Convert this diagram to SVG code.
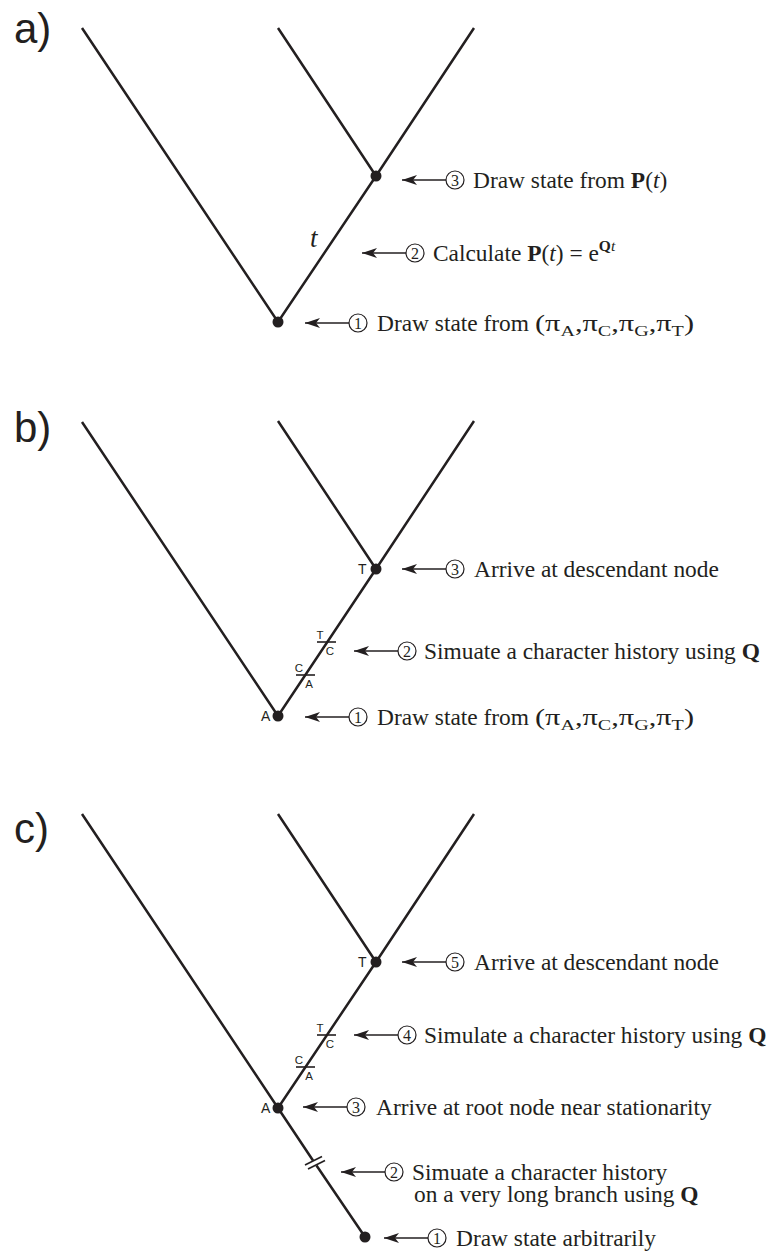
<svg xmlns="http://www.w3.org/2000/svg" width="769" height="1254" viewBox="0 0 769 1254">
<style>
.br{stroke:#231f20;stroke-width:2.5;fill:none;stroke-linecap:butt}
.dot{fill:#231f20}
.tick{stroke:#231f20;stroke-width:1.6;fill:none}
.arr{stroke:#231f20;stroke-width:1.6;fill:none;marker-end:url(#ah)}
.cir{stroke:#231f20;stroke-width:1.2;fill:none}
.dig{font-family:"Liberation Serif",serif;font-size:16px;fill:#231f20;text-anchor:middle}
.lbl{font-family:"Liberation Serif",serif;font-size:23.4px;fill:#231f20}
.sub{font-size:15.5px}
.pl{font-family:"Liberation Sans",Arial,sans-serif;font-size:42px;fill:#231f20}
.st{font-family:"Liberation Sans",Arial,sans-serif;font-size:14px;fill:#231f20}
.mt{font-family:"Liberation Sans",Arial,sans-serif;font-size:11.5px;fill:#231f20;text-anchor:middle}
</style>
<defs>
<marker id="ah" markerUnits="userSpaceOnUse" markerWidth="16" markerHeight="11" refX="15" refY="5" orient="auto">
<path d="M0,0 L15,5 L0,10 L4,5 Z" fill="#231f20"/>
</marker>
</defs>
<rect width="769" height="1254" fill="#ffffff"/>

<!-- panel labels -->
<text class="pl" x="14" y="43">a)</text>
<text class="pl" x="14" y="442">b)</text>
<text class="pl" x="14" y="843">c)</text>

<!-- connectors -->
<g id="connectors">
  <path class="br" d="M82,28 L278,322 L376,176 L474,28 M278,28 L376,176"/>
  <path class="br" d="M82,422 L278,716 L376,569 L474,421 M278,421 L376,569"/>
  <path class="br" d="M82,814 L278,1108 L376,962 L474,814 M278,814 L376,962"/>
  <path class="br" d="M278,1108 L313,1160.5 M316.5,1165.5 L365,1237"/>
  <line class="tick" x1="305" y1="1165" x2="322" y2="1156.5"/>
  <line class="tick" x1="308" y1="1169" x2="325" y2="1160.5"/>
</g>

<!-- branch length label -->
<text x="310" y="247" font-family="Liberation Serif,serif" font-style="italic" font-size="27" fill="#231f20">t</text>

<!-- mutation marks b -->
<g id="mutations-b">
  <line class="tick" x1="317" y1="642" x2="336" y2="642"/>
  <text class="mt" x="320" y="639">T</text>
  <text class="mt" x="330" y="655">C</text>
  <line class="tick" x1="296" y1="675" x2="315" y2="675"/>
  <text class="mt" x="299" y="672">C</text>
  <text class="mt" x="309" y="688">A</text>
</g>
<!-- mutation marks c -->
<g id="mutations-c">
  <line class="tick" x1="317" y1="1035" x2="336" y2="1035"/>
  <text class="mt" x="320" y="1032">T</text>
  <text class="mt" x="330" y="1048">C</text>
  <line class="tick" x1="296" y1="1067" x2="315" y2="1067"/>
  <text class="mt" x="299" y="1064">C</text>
  <text class="mt" x="309" y="1080">A</text>
</g>

<!-- nodes -->
<g id="node-a-root"><circle class="dot" cx="278" cy="322" r="5.5"/></g>
<g id="node-a-desc"><circle class="dot" cx="376" cy="176" r="5.5"/></g>
<g id="node-b-root"><circle class="dot" cx="278" cy="716" r="5.5"/><text class="st" x="261" y="721">A</text></g>
<g id="node-b-desc"><circle class="dot" cx="376" cy="569" r="5.5"/><text class="st" x="358" y="574">T</text></g>
<g id="node-c-root"><circle class="dot" cx="278" cy="1108" r="5.5"/><text class="st" x="261" y="1113">A</text></g>
<g id="node-c-desc"><circle class="dot" cx="376" cy="962" r="5.5"/><text class="st" x="358" y="967">T</text></g>
<g id="node-c-start"><circle class="dot" cx="365" cy="1237" r="5.5"/></g>

<!-- annotations a -->
<g id="ann-a3">
  <line class="arr" x1="446" y1="180" x2="402" y2="180"/>
  <circle class="cir" cx="455" cy="180" r="9"/><text class="dig" x="455" y="185.5">3</text>
  <text class="lbl" x="473" y="188">Draw state from <tspan font-weight="bold">P</tspan>(<tspan font-style="italic">t</tspan>)</text>
</g>
<g id="ann-a2">
  <line class="arr" x1="406" y1="253" x2="362" y2="253"/>
  <circle class="cir" cx="415" cy="253" r="9"/><text class="dig" x="415" y="258.5">2</text>
  <text class="lbl" x="433" y="261">Calculate <tspan font-weight="bold">P</tspan>(<tspan font-style="italic">t</tspan>) = e<tspan class="sub" dy="-10" font-weight="bold">Q</tspan><tspan class="sub" font-style="italic">t</tspan></text>
</g>
<g id="ann-a1">
  <line class="arr" x1="349" y1="323" x2="305" y2="323"/>
  <circle class="cir" cx="358" cy="323" r="9"/><text class="dig" x="358" y="328.5">1</text>
  <text class="lbl" x="377" y="331">Draw state from</text>
  <text class="lbl" x="535" y="331" textLength="159" lengthAdjust="spacingAndGlyphs">(π<tspan class="sub" dy="5">A</tspan><tspan dy="-5">,π</tspan><tspan class="sub" dy="5">C</tspan><tspan dy="-5">,π</tspan><tspan class="sub" dy="5">G</tspan><tspan dy="-5">,π</tspan><tspan class="sub" dy="5">T</tspan><tspan dy="-5">)</tspan></text>
</g>

<!-- annotations b -->
<g id="ann-b3">
  <line class="arr" x1="446" y1="569" x2="402" y2="569"/>
  <circle class="cir" cx="455" cy="569" r="9"/><text class="dig" x="455" y="574.5">3</text>
  <text class="lbl" x="474" y="577">Arrive at descendant node</text>
</g>
<g id="ann-b2">
  <line class="arr" x1="398" y1="651" x2="354" y2="651"/>
  <circle class="cir" cx="407" cy="651" r="9"/><text class="dig" x="407" y="656.5">2</text>
  <text class="lbl" x="424" y="659">Simuate a character history using <tspan font-weight="bold">Q</tspan></text>
</g>
<g id="ann-b1">
  <line class="arr" x1="349" y1="717" x2="305" y2="717"/>
  <circle class="cir" cx="358" cy="717" r="9"/><text class="dig" x="358" y="722.5">1</text>
  <text class="lbl" x="377" y="725">Draw state from</text>
  <text class="lbl" x="535" y="725" textLength="159" lengthAdjust="spacingAndGlyphs">(π<tspan class="sub" dy="5">A</tspan><tspan dy="-5">,π</tspan><tspan class="sub" dy="5">C</tspan><tspan dy="-5">,π</tspan><tspan class="sub" dy="5">G</tspan><tspan dy="-5">,π</tspan><tspan class="sub" dy="5">T</tspan><tspan dy="-5">)</tspan></text>
</g>

<!-- annotations c -->
<g id="ann-c5">
  <line class="arr" x1="446" y1="962" x2="402" y2="962"/>
  <circle class="cir" cx="455" cy="962" r="9"/><text class="dig" x="455" y="967.5">5</text>
  <text class="lbl" x="474" y="970">Arrive at descendant node</text>
</g>
<g id="ann-c4">
  <line class="arr" x1="398" y1="1035" x2="354" y2="1035"/>
  <circle class="cir" cx="407" cy="1035" r="9"/><text class="dig" x="407" y="1040.5">4</text>
  <text class="lbl" x="424" y="1043">Simulate a character history using <tspan font-weight="bold">Q</tspan></text>
</g>
<g id="ann-c3">
  <line class="arr" x1="347" y1="1107" x2="303" y2="1107"/>
  <circle class="cir" cx="356" cy="1107" r="9"/><text class="dig" x="356" y="1112.5">3</text>
  <text class="lbl" x="376" y="1115">Arrive at root node near stationarity</text>
</g>
<g id="ann-c2">
  <line class="arr" x1="385" y1="1172" x2="341" y2="1172"/>
  <circle class="cir" cx="394" cy="1172" r="9"/><text class="dig" x="394" y="1177.5">2</text>
  <text class="lbl" x="412" y="1180">Simuate a character history<tspan x="414" y="1202">on a very long branch using </tspan><tspan font-weight="bold">Q</tspan></text>
</g>
<g id="ann-c1">
  <line class="arr" x1="428" y1="1238" x2="384" y2="1238"/>
  <circle class="cir" cx="437" cy="1238" r="9"/><text class="dig" x="437" y="1243.5">1</text>
  <text class="lbl" x="456" y="1246">Draw state arbitrarily</text>
</g>
</svg>
